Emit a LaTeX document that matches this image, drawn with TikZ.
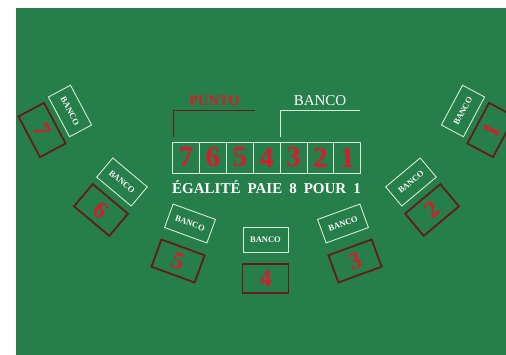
\documentclass[tikz,border=0pt]{standalone}
\usepackage{fontspec}
\setmainfont{Liberation Serif}
\definecolor{felt}{RGB}{38,126,74}
\definecolor{chalk}{RGB}{215,235,215}
\definecolor{digred}{RGB}{215,28,45}
\definecolor{darkmaroon}{RGB}{100,28,24}
\begin{document}
\begin{tikzpicture}[x=1pt,y=-1pt,
  banco/.style={draw=chalk, line width=0.9pt, minimum width=45pt, minimum height=25pt, inner sep=0pt, text=white, font=\bfseries\fontsize{8.5}{8.5}\selectfont},
  seat/.style={draw=darkmaroon, line width=1.8pt, minimum width=46pt, minimum height=29pt, inner sep=0pt, text=digred, font=\bfseries\fontsize{24}{24}\selectfont},
  cell/.style={draw=chalk, line width=0.8pt, minimum width=26.86pt, minimum height=31pt, inner sep=0pt, text=digred, font=\bfseries\fontsize{29}{29}\selectfont},
  hdrtxt/.style={inner sep=0pt, font=\fontsize{15}{15}\selectfont}
]
\useasboundingbox (0,0) rectangle (506,355);
\clip (0,0) rectangle (506,355);
\fill[white] (0,0) rectangle (506,355);
\fill[felt] (16,8) rectangle (506,355);

% central row of seven cells
\foreach \n [count=\i] in {7,6,5,4,3,2,1}
  \node[cell] (c\n) at ({172.7+26.86*(\i-0.5)},157.5) {\n};

% headers and brackets
\node[hdrtxt, text=digred, font=\bfseries\fontsize{14.5}{14.5}\selectfont] (punto) at (214.5,101) {PUNTO};
\node[hdrtxt, text=white] (bancohdr) at (320,101) {BANCO};
\coordinate (pA) at (173.3,136.7);
\coordinate (pB) at (173.3,110.7);
\coordinate (pC) at (255,110.7);
\draw[darkmaroon, line width=1.6pt] (pA) -- (pB) -- (pC);
\coordinate (bA) at (280,137);
\coordinate (bB) at (280,110);
\coordinate (bC) at (360,110);
\draw[chalk, line width=0.9pt] (bA) -- (bB) -- (bC);

\node[inner sep=0pt, text=white, font=\bfseries\fontsize{15}{15}\selectfont] (egal) at (266.5,187.5)
  {\spaceskip=7pt ÉGALITÉ PAIE 8 POUR 1};

% seats
\node[banco, rotate=-62] (b7) at (70,111) {BANCO};
\node[seat,  rotate=-62] (s7) at (42,130) {7};
\node[banco, rotate=-40] (b6) at (122,182) {BANCO};
\node[seat,  rotate=-40] (s6) at (101,210) {6};
\node[banco, rotate=-20] (b5) at (190,223.5) {BANCO};
\node[seat,  rotate=-20] (s5) at (178,261) {5};
\node[banco] (b4) at (265.5,240) {BANCO};
\node[seat]  (s4) at (265.5,278.5) {4};
\node[banco, rotate=20] (b3) at (343,223.5) {BANCO};
\node[seat,  rotate=20] (s3) at (355,261) {3};
\node[banco, rotate=40] (b2) at (411,182) {BANCO};
\node[seat,  rotate=40] (s2) at (432,210) {2};
\node[banco, rotate=62] (b1) at (463,111) {BANCO};
\node[seat,  rotate=62] (s1) at (491,130) {1};
\end{tikzpicture}
\end{document}
